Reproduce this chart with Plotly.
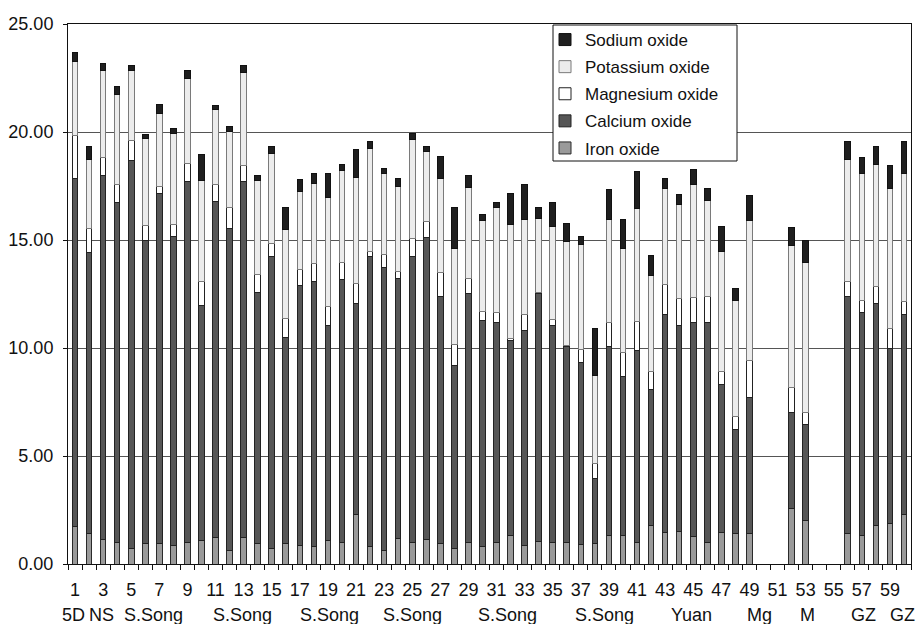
import plotly.graph_objects as go

categories = list(range(1, 61))

iron = [1.73, 1.39, 1.14, 0.99, 0.71, 0.96, 0.96, 0.85, 0.99, 1.08,
        1.22, 0.62, 1.22, 0.96, 0.71, 0.96, 0.85, 0.80, 1.09, 0.99,
        2.27, 0.80, 0.62, 1.17, 0.99, 1.14, 0.96, 0.71, 0.99, 0.82,
        0.99, 1.30, 0.85, 1.05, 0.99, 0.99, 0.90, 0.96, 1.34, 1.30,
        0.99, 1.78, 1.47, 1.50, 1.27, 0.99, 1.47, 1.39, 1.39, None,
        None, 2.55, 2.02, None, None, 1.42, 1.30, 1.78, 1.88, 2.30]

calcium = [16.13, 13.03, 16.84, 15.73, 17.95, 14.01, 16.21, 14.29, 16.73, 10.89,
           15.55, 14.90, 16.50, 11.62, 13.54, 9.51, 12.03, 12.27, 9.96, 12.16,
           9.78, 13.45, 13.10, 12.03, 13.23, 13.98, 11.41, 8.46, 11.53, 10.44,
           10.18, 9.07, 9.96, 11.46, 10.05, 9.10, 8.45, 3.01, 8.71, 7.40,
           8.89, 6.31, 10.07, 9.54, 9.93, 10.17, 6.85, 4.84, 6.31, None,
           None, 4.45, 4.45, None, None, 10.95, 10.34, 10.30, 8.08, 9.26]

magnesium = [2.00, 1.09, 0.85, 0.83, 0.96, 0.68, 0.32, 0.60, 0.83, 1.09,
             0.78, 0.97, 0.74, 0.84, 0.61, 0.91, 0.77, 0.82, 0.87, 0.83,
             0.92, 0.20, 0.62, 0.32, 0.86, 0.73, 1.12, 0.97, 0.68, 0.43,
             0.46, 0.05, 0.75, 0.04, 0.30, 0.03, 0.56, 0.66, 1.15, 1.10,
             1.36, 0.84, 1.38, 1.24, 1.12, 1.21, 0.61, 0.59, 1.71, None,
             None, 1.18, 0.53, None, None, 0.72, 0.58, 0.78, 0.95, 0.58]

potassium = [3.42, 3.24, 4.03, 4.19, 3.24, 4.03, 3.37, 4.17, 3.94, 4.68,
             3.50, 3.54, 4.29, 4.33, 4.16, 4.12, 3.61, 3.73, 5.03, 4.25,
             4.91, 4.78, 3.75, 3.96, 4.55, 3.26, 4.34, 4.48, 4.23, 4.23,
             4.88, 5.29, 4.38, 3.43, 4.29, 4.82, 4.87, 4.12, 4.74, 4.82,
             5.22, 4.42, 4.45, 4.35, 5.23, 4.45, 5.52, 5.38, 6.50, None,
             None, 6.57, 6.98, None, None, 5.66, 5.84, 5.63, 6.47, 5.92]

sodium = [0.38, 0.60, 0.32, 0.38, 0.23, 0.20, 0.42, 0.24, 0.34, 1.21,
          0.20, 0.22, 0.34, 0.25, 0.30, 1.00, 0.56, 0.46, 1.13, 0.25,
          1.29, 0.35, 0.20, 0.38, 0.31, 0.21, 1.05, 1.89, 0.55, 0.25,
          0.23, 1.46, 1.61, 0.53, 1.12, 0.81, 0.39, 2.17, 1.38, 1.35,
          1.71, 0.94, 0.49, 0.49, 0.73, 0.58, 1.17, 0.57, 1.15, None,
          None, 0.82, 1.00, None, None, 0.82, 0.76, 0.83, 1.05, 1.51]

tick_values = list(range(1, 60, 2))
tick_labels = [str(v) for v in tick_values]

group_labels = ["5D", "NS", "S.Song", "S.Song", "S.Song", "S.Song", "S.Song",
                "S.Song", "Yuan", "Mg", "M", "GZ", "GZ"]
group_centers = [0.9, 2.9, 6.55, 12.9, 19.1, 25.05, 31.8, 38.65, 44.9, 49.7,
                 53.1, 57.1, 59.9]

FONT = "Liberation Sans, Arial, Helvetica, sans-serif"

# plot area geometry (pixels) used to place the legend box
PL, PR, PT, PB = 68, 911, 24, 564
PW, PH = PR - PL, PB - PT

def px_x(p):
    return (p - PL) / PW

def px_y(p):
    return (PB - p) / PH

series = [
    ("Iron oxide", iron, "#9a9a9a", "#2a2a2a", 5),
    ("Calcium oxide", calcium, "#565656", "#222222", 4),
    ("Magnesium oxide", magnesium, "#ffffff", "#222222", 3),
    ("Potassium oxide", potassium, "#ececec", "#7a7a7a", 2),
    ("Sodium oxide", sodium, "#1f1f1f", "#111111", 1),
]

fig = go.Figure()
for name, vals, col, lcol, rank in series:
    fig.add_trace(go.Bar(
        x=categories, y=vals, name=name, width=0.4, legendgroup=name,
        legendrank=rank,
        marker=dict(color=col, line=dict(color=lcol, width=1)),
    ))

for lab, xc in zip(group_labels, group_centers):
    fig.add_annotation(x=xc, xref="x", y=-0.094, yref="paper", text=lab,
                       showarrow=False, xanchor="center", yanchor="middle",
                       font=dict(family=FONT, size=18, color="#111"))

# legend frame
fig.add_shape(type="rect", xref="paper", yref="paper",
              x0=px_x(553), x1=px_x(737), y0=px_y(161), y1=px_y(25),
              fillcolor="white", line=dict(color="#111", width=1),
              layer="above")

fig.update_layout(
    barmode="stack",
    width=916, height=624,
    margin=dict(l=PL, r=916 - PR, t=PT, b=624 - PB),
    paper_bgcolor="white", plot_bgcolor="white",
    font=dict(family=FONT, size=18, color="#111"),
    legend=dict(
        x=px_x(545), y=px_y(22), xanchor="left", yanchor="top",
        bgcolor="rgba(0,0,0,0)", borderwidth=0,
        traceorder="grouped", tracegroupgap=2,
        font=dict(family=FONT, size=17, color="#111"),
        itemwidth=30,
    ),
    showlegend=True,
)

fig.update_xaxes(
    range=[0.5, 60.5],
    tickmode="array", tickvals=tick_values, ticktext=tick_labels,
    ticks="", showgrid=False, zeroline=False,
    showline=True, linecolor="#111", linewidth=1, mirror=True,
    tickfont=dict(family=FONT, size=18, color="#111"),
    ticklabelstandoff=9,
    minor=dict(tick0=0.5, dtick=1, ticks="outside", ticklen=5,
               tickcolor="#111", tickwidth=1, showgrid=False),
)

fig.update_yaxes(
    range=[0, 25], tickmode="linear", tick0=0, dtick=5, tickformat=".2f",
    ticks="outside", ticklen=4, tickcolor="#111",
    showgrid=True, gridcolor="#555", gridwidth=1, zeroline=False,
    showline=True, linecolor="#111", linewidth=1, mirror=True,
    tickfont=dict(family=FONT, size=18, color="#111"),
    ticklabelstandoff=6,
)

fig.write_html("out.html")
